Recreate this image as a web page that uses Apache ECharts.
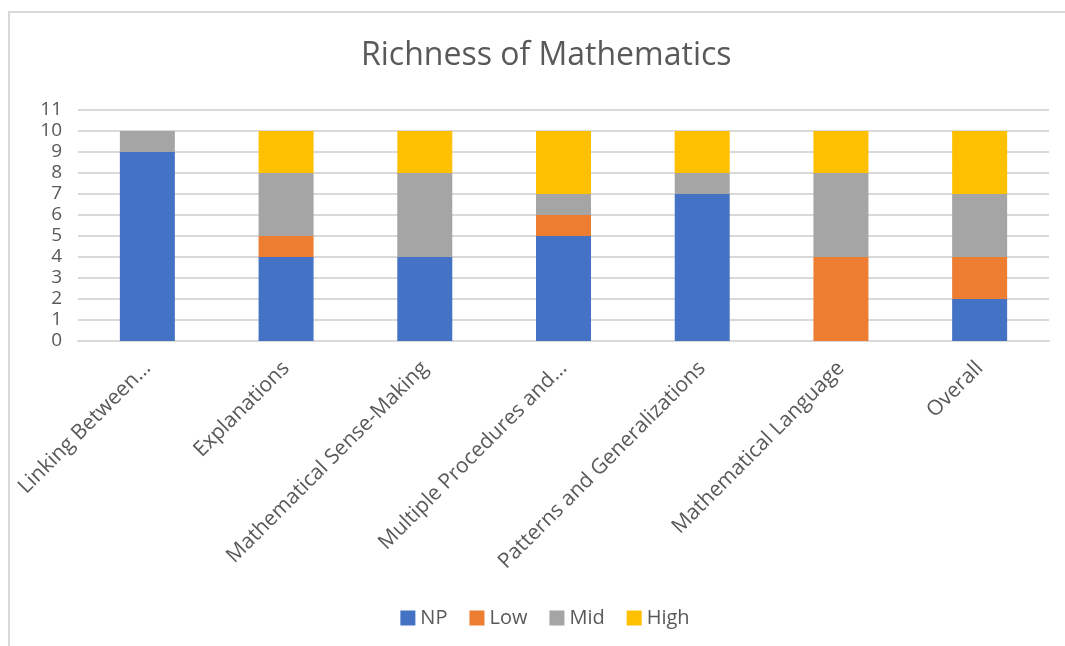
<!DOCTYPE html>
<html lang="en">

<head>
    <meta http-equiv="content-type" content="txt/html; charset=utf-8"/>
    <title>Richness of Mathematics</title>
    <script src="https://cdn.jsdelivr.net/npm/echarts@6/dist/echarts.min.js"></script>
    <style>
        html, body {
            height: 100%;
            margin: 0;
            background: #fff;
            overflow: hidden;
        }

        .chart {
            position: absolute;
            left: 8px;
            top: 11px;
            width: 1070px;
            height: 650px;
            border: 2px solid #d9d9d9;
        }
    </style>
</head>

<body>
<div class="chart"></div>
<script>
    const categories = ["Linking Between\u2026", "Explanations", "Mathematical Sense-Making",
        "Multiple Procedures and\u2026", "Patterns and Generalizations", "Mathematical Language", "Overall"];
    const np = [9, 4, 4, 5, 7, 0, 2];
    const low = [0, 1, 0, 1, 0, 4, 2];
    const mid = [1, 3, 4, 1, 1, 4, 3];
    const high = [0, 2, 2, 3, 2, 2, 3];

    const font = "'Open Sans', sans-serif";
    const chart = echarts.init(document.querySelector(".chart"));

    function bar(name, data, color) {
        return {
            name: name,
            type: "bar",
            stack: "total",
            barWidth: 55,
            itemStyle: {color: color},
            data: data
        };
    }

    chart.setOption({
        animation: false,
        textStyle: {fontFamily: font},
        title: {
            text: "Richness of Mathematics",
            left: 346,
            top: 22,
            textStyle: {fontSize: 32, fontWeight: "normal", color: "#595959", fontFamily: font}
        },
        legend: {
            top: 590,
            left: "center",
            itemWidth: 15,
            itemHeight: 15,
            itemGap: 22,
            icon: "rect",
            textStyle: {fontSize: 20, color: "#595959", fontFamily: font},
            data: ["NP", "Low", "Mid", "High"]
        },
        grid: {
            left: 68,
            right: 31,
            top: 97,
            bottom: 322,
            containLabel: false
        },
        xAxis: {
            type: "category",
            data: categories,
            axisLine: {lineStyle: {color: "#d9d9d9", width: 2}},
            axisTick: {show: false},
            axisLabel: {
                rotate: 45,
                interval: 0,
                margin: 24,
                fontSize: 21,
                color: "#595959",
                fontFamily: font
            }
        },
        yAxis: {
            type: "value",
            min: 0,
            max: 11,
            interval: 1,
            axisLine: {show: false},
            axisTick: {show: false},
            splitLine: {lineStyle: {color: "#d9d9d9", width: 2}},
            axisLabel: {fontSize: 19, color: "#595959", margin: 16, fontFamily: font}
        },
        series: [
            bar("NP", np, "#4472c4"),
            bar("Low", low, "#ed7d31"),
            bar("Mid", mid, "#a5a5a5"),
            bar("High", high, "#ffc000")
        ]
    });
</script>
</body>

</html>
